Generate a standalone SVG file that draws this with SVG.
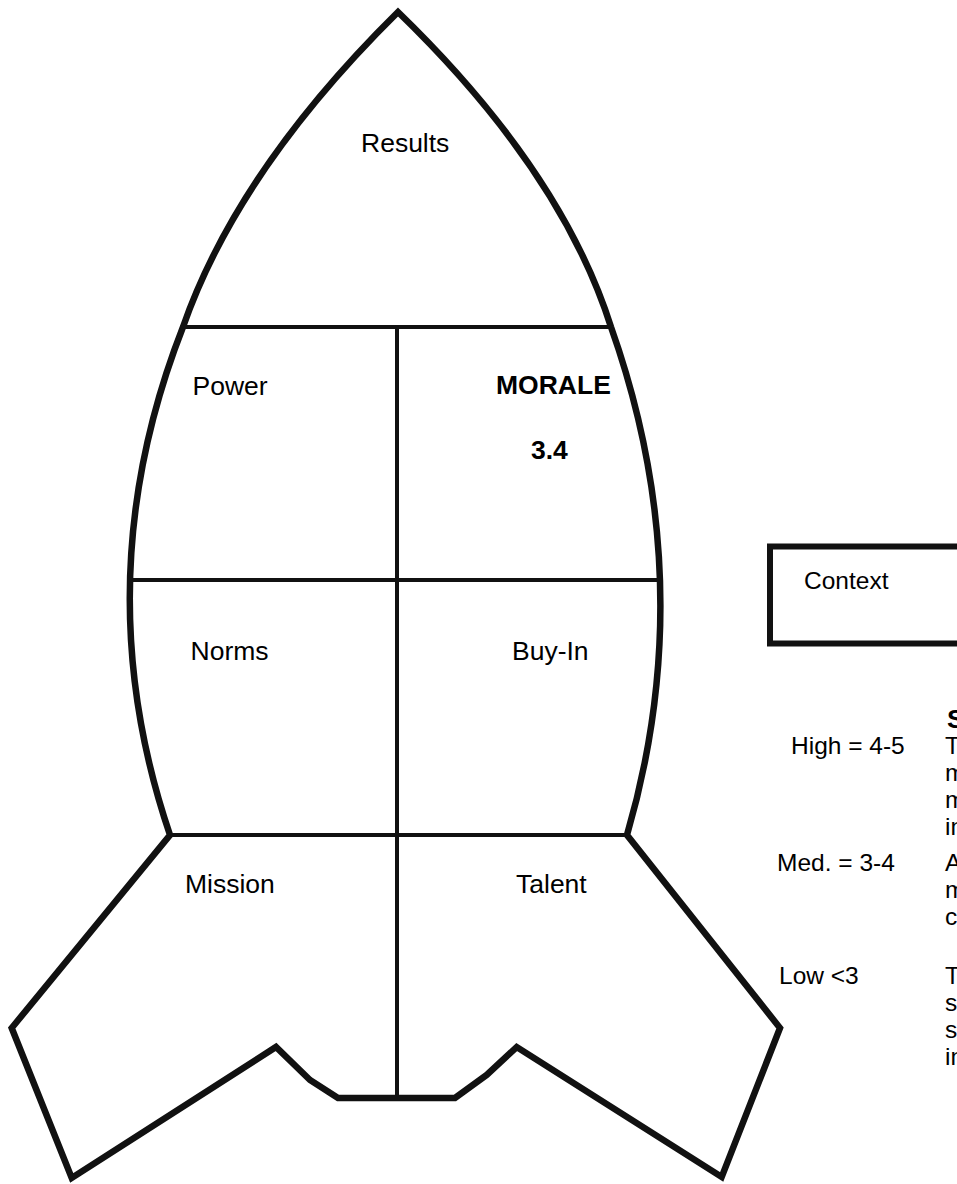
<svg xmlns="http://www.w3.org/2000/svg" width="957" height="1184" viewBox="0 0 957 1184">
<style>
.t{font-family:"Liberation Sans",Arial,sans-serif;font-size:26.5px;fill:#000}
.l{font-size:24.5px}
.b{font-weight:bold}
.out{fill:#fff;stroke:#111;stroke-width:6.5;stroke-linejoin:miter}
.ln{stroke:#111;stroke-width:4;fill:none}
</style>
<rect width="957" height="1184" fill="#fff"/>
<g id="rocket">
<path class="out" d="M398 12 Q561.5 170.5 611 327 Q701 581 627 835 L780 1028 L721.7 1177 L516.7 1047 L486.7 1075 L455 1098 L338 1098 L310 1080 L276 1047 L71.7 1178 L11.7 1028 L170 835 Q83.5 581 183 327 Q237.5 170.5 398 12 Z"/>
</g>
<g id="connectors">
<line class="ln" x1="183" y1="327" x2="611" y2="327" stroke-width="5"/>
<line class="ln" x1="128" y1="580" x2="661" y2="580"/>
<line class="ln" x1="170" y1="835" x2="627" y2="835"/>
<line class="ln" x1="397" y1="327" x2="397" y2="1098"/>
</g>
<g id="results"><text class="t" x="361" y="152">Results</text></g>
<g id="power"><text class="t" x="192.5" y="394.5">Power</text></g>
<g id="morale"><text class="t b" x="496" y="394">MORALE</text><text class="t b" x="531" y="459">3.4</text></g>
<g id="norms"><text class="t" x="190.5" y="659.5">Norms</text></g>
<g id="buyin"><text class="t" x="512" y="659.5">Buy-In</text></g>
<g id="mission"><text class="t" x="185" y="893">Mission</text></g>
<g id="talent"><text class="t" x="516" y="893">Talent</text></g>
<g id="context">
<rect x="770" y="546.5" width="300" height="97" fill="#fff" stroke="#111" stroke-width="6"/>
<text class="t l" x="804" y="589">Context</text>
</g>
<g id="legend">
<text class="t b" x="947" y="728" font-size="28">S</text>
<text class="t l" x="791" y="754">High = 4-5</text>
<text class="t l" x="945" y="754">T</text>
<text class="t l" x="945" y="781">m</text>
<text class="t l" x="945" y="808">m</text>
<text class="t l" x="945" y="835">in</text>
<text class="t l" x="777" y="871">Med. = 3-4</text>
<text class="t l" x="945" y="871">A</text>
<text class="t l" x="945" y="898">m</text>
<text class="t l" x="945" y="925">c</text>
<text class="t l" x="779" y="984">Low &lt;3</text>
<text class="t l" x="945" y="984">T</text>
<text class="t l" x="945" y="1011">s</text>
<text class="t l" x="945" y="1038">s</text>
<text class="t l" x="945" y="1065">in</text>
</g>
</svg>
